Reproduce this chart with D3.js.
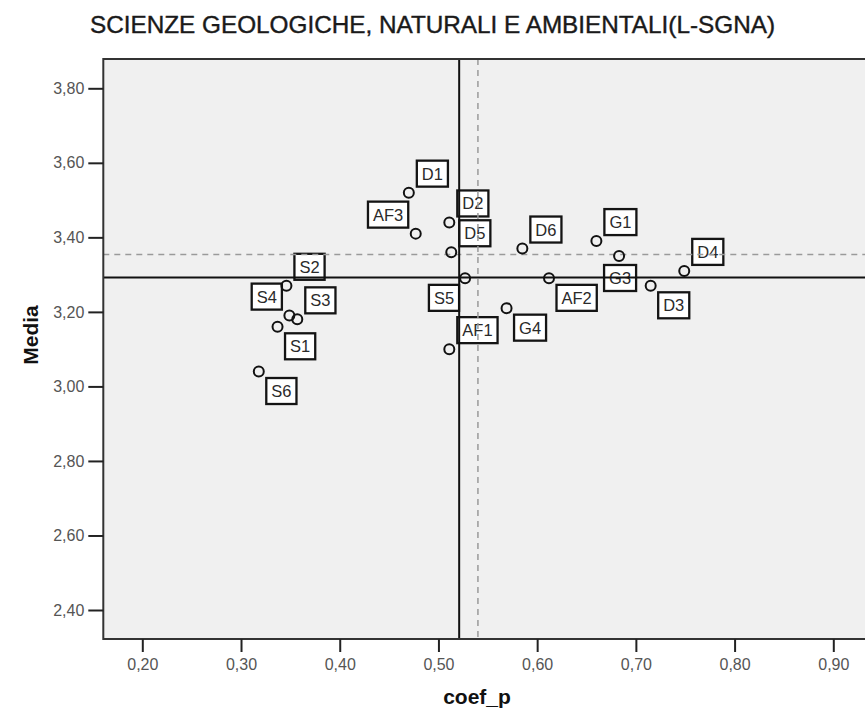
<!DOCTYPE html>
<html>
<head>
<meta charset="utf-8">
<script src="https://cdn.jsdelivr.net/npm/d3@7"></script>
<style>
  html, body { margin: 0; padding: 0; background: #ffffff; }
  svg { display: block; }
  text { font-family: "Liberation Sans", Arial, sans-serif; }
</style>
</head>
<body>
<svg id="chart" width="865" height="715"></svg>
<script>
// ---- data ----
const title = "SCIENZE GEOLOGICHE, NATURALI E AMBIENTALI(L-SGNA)";
const xTitle = "coef_p";
const yTitle = "Media";
const labels = ["D1","AF3","D2","D5","S5","AF1","D6","G1","G3","AF2","G4","D4","D3","S2","S4","S3","S1","S6"];
const coefP  = [0.470,0.477,0.511,0.513,0.527,0.511,0.585,0.660,0.683,0.612,0.569,0.749,0.715,0.346,0.349,0.357,0.337,0.318];
const media  = [3.52,3.41,3.44,3.36,3.29,3.10,3.37,3.39,3.35,3.29,3.21,3.31,3.27,3.27,3.19,3.18,3.16,3.04];
const labelSide = ["ne","nw","ne","ne","sw","ne","ne","ne","s","se","se","ne","se","ne","nw","ne","se","se"];
const solidRef  = [0.521, 3.292];   // [coef_p, Media] reference lines (solid)
const dashedRef = [0.540, 3.354];   // [coef_p, Media] reference lines (dashed)
const xTicks = [0.2,0.3,0.4,0.5,0.6,0.7,0.8,0.9];
const yTicks = [2.4,2.6,2.8,3.0,3.2,3.4,3.6,3.8];

// ---- layout ----
const plotLeft = 103.3, plotTop = 59, plotBottom = 639, plotRight = 868;
const x = d3.scaleLinear().domain([0.2, 0.9]).range([142.3, 833.3]);
const y = d3.scaleLinear().domain([2.4, 3.8]).range([610, 88.3]);
const fmt = d => d3.format(".2f")(d).replace(".", ",");

const svg = d3.select("#chart");

// title
svg.append("text")
  .attr("x", 432.5).attr("y", 33)
  .attr("text-anchor", "middle")
  .attr("font-size", 24.5)
  .attr("textLength", 685)
  .attr("lengthAdjust", "spacingAndGlyphs")
  .attr("fill", "#1a1a1a")
  .attr("stroke", "#1a1a1a").attr("stroke-width", 0.4)
  .text(title);

// clip
svg.append("defs").append("clipPath").attr("id", "clip")
  .append("rect").attr("x", plotLeft).attr("y", plotTop)
  .attr("width", plotRight - plotLeft).attr("height", plotBottom - plotTop);

// plot background
svg.append("rect")
  .attr("x", plotLeft).attr("y", plotTop)
  .attr("width", plotRight - plotLeft).attr("height", plotBottom - plotTop)
  .attr("fill", "#f0f0f0");

const g = svg.append("g").attr("clip-path", "url(#clip)");

const data = labels.map((l, i) => ({ label: l, x: coefP[i], y: media[i], side: labelSide[i] }));

// label boxes
const lg = g.append("g");
data.forEach(d => {
  const px = x(d.x), py = y(d.y);
  const t = lg.append("text").attr("font-size", 16.5).attr("fill", "#2a2a2a").text(d.label);
  const tw = t.node().getComputedTextLength();
  const bw = tw + 10, bh = 26;
  let bx, by;
  if (d.side === "ne") { bx = px + 8; by = py - 6 - bh; }
  else if (d.side === "nw") { bx = px - 7.5 - bw; by = py - 6 - bh; }
  else if (d.side === "se") { bx = px + 7.5; by = py + 6.5; }
  else if (d.side === "sw") { bx = px - 6 - bw; by = py + 6.5; }
  else { bx = px - bw / 2 + 1; by = py + 9; }
  lg.insert("rect", () => t.node())
    .attr("x", bx).attr("y", by).attr("width", bw).attr("height", bh)
    .attr("fill", "#ffffff").attr("stroke", "#141414").attr("stroke-width", 2.3);
  t.attr("x", bx + bw / 2).attr("y", by + bh / 2 + 6).attr("text-anchor", "middle");
});

// reference lines
g.append("line")
  .attr("x1", x(dashedRef[0])).attr("x2", x(dashedRef[0]))
  .attr("y1", plotTop).attr("y2", plotBottom)
  .attr("stroke", "#9a9a9a").attr("stroke-width", 1.5).attr("stroke-dasharray", "6,5");
g.append("line")
  .attr("x1", plotLeft).attr("x2", plotRight)
  .attr("y1", y(dashedRef[1])).attr("y2", y(dashedRef[1]))
  .attr("stroke", "#9a9a9a").attr("stroke-width", 1.5).attr("stroke-dasharray", "6,5");
g.append("line")
  .attr("x1", x(solidRef[0])).attr("x2", x(solidRef[0]))
  .attr("y1", plotTop).attr("y2", plotBottom)
  .attr("stroke", "#111").attr("stroke-width", 2);
g.append("line")
  .attr("x1", plotLeft).attr("x2", plotRight)
  .attr("y1", y(solidRef[1])).attr("y2", y(solidRef[1]))
  .attr("stroke", "#111").attr("stroke-width", 2);

// points
g.selectAll("circle.pt").data(data).enter().append("circle")
  .attr("class", "pt")
  .attr("cx", d => x(d.x)).attr("cy", d => y(d.y))
  .attr("r", 5)
  .attr("fill", "none").attr("stroke", "#111").attr("stroke-width", 2);

// frame
svg.append("rect")
  .attr("x", plotLeft).attr("y", plotTop)
  .attr("width", plotRight - plotLeft).attr("height", plotBottom - plotTop)
  .attr("fill", "none").attr("stroke", "#333").attr("stroke-width", 2);

// axes
const yAxis = svg.append("g").attr("transform", `translate(${plotLeft},0)`)
  .call(d3.axisLeft(y).tickValues(yTicks).tickFormat(fmt).tickSize(15).tickPadding(4));
const xAxis = svg.append("g").attr("transform", `translate(0,${plotBottom})`)
  .call(d3.axisBottom(x).tickValues(xTicks).tickFormat(fmt).tickSize(13).tickPadding(7));
[yAxis, xAxis].forEach(a => {
  a.select(".domain").remove();
  a.selectAll(".tick line").attr("stroke", "#222").attr("stroke-width", 2);
  a.selectAll(".tick text")
    .attr("font-family", "\"Liberation Sans\", Arial, sans-serif")
    .attr("font-size", 16).attr("fill", "#555");
});

// axis titles
svg.append("text")
  .attr("x", 477).attr("y", 704)
  .attr("text-anchor", "middle")
  .attr("font-size", 21).attr("font-weight", "bold").attr("fill", "#111")
  .text(xTitle);
svg.append("text")
  .attr("transform", "translate(38,335) rotate(-90)")
  .attr("text-anchor", "middle")
  .attr("font-size", 21).attr("font-weight", "bold").attr("fill", "#111")
  .text(yTitle);
</script>
</body>
</html>
